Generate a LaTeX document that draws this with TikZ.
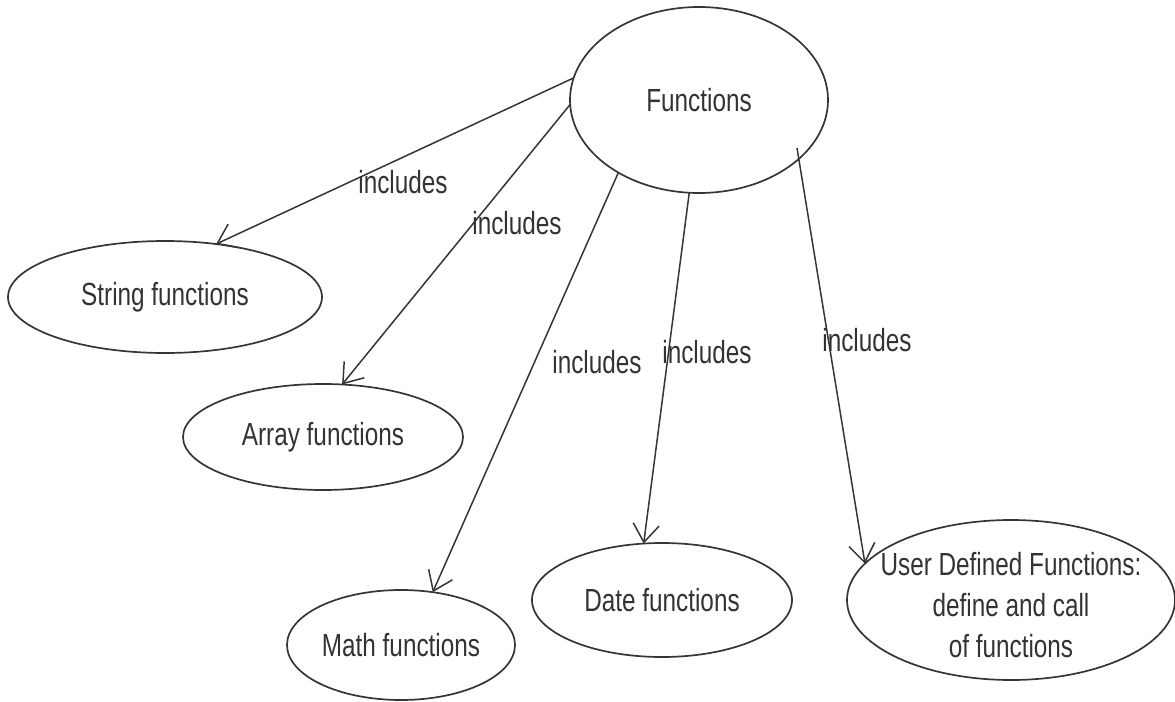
\documentclass[tikz,border=0pt]{standalone}
\usepackage{fontspec}
\setmainfont{Liberation Sans}[FakeStretch=0.76]
\usetikzlibrary{shapes.geometric,arrows.meta}
\definecolor{ln}{HTML}{353535}
\definecolor{tx}{HTML}{333333}
\begin{document}
\begin{tikzpicture}[x=0.5pt,y=-0.5pt,
  oval/.style={ellipse,draw=ln,line width=0.85pt,inner sep=0pt,outer sep=0pt,
     text=tx,align=center,font=\fontsize{16}{20.5}\selectfont},
  conn/.style={draw=ln,line width=0.75pt,-{Straight Barb[length=9pt,width=13pt,line width=0.75pt]}},
  lbl/.style={text=tx,inner sep=0pt,align=center,font=\fontsize{16}{20.5}\selectfont}]
\useasboundingbox (0,0) rectangle (1175,702);
\node[oval,minimum width=129pt,minimum height=93pt] (F) at (699,100) {Functions};
\node[oval,minimum width=157pt,minimum height=56pt] (S) at (165,297) {String functions};
\node[oval,minimum width=140pt,minimum height=53pt] (A) at (323,437) {Array functions};
\node[oval,minimum width=114pt,minimum height=55pt] (M) at (401,645) {Math functions};
\node[oval,minimum width=130pt,minimum height=57pt] (D) at (662,600) {Date functions};
\node[oval,minimum width=164pt,minimum height=80pt] (U) at (1011,600) {};
\node[lbl] (Ut) at (1011,605) {User Defined Functions:\\define and call\\of functions};
\coordinate (ustart) at (797,148);
\draw[conn] (F.170.3) -- (S.46);
\draw[conn] (F.182) -- (A.70.6);
\draw[conn] (F.222) -- (M.59);
\draw[conn] (F.264.7) -- (D.108.4);
\draw[conn] (ustart) -- (U.166.7);
\node[lbl] (l1) at (403,182) {includes};
\node[lbl] (l2) at (517,223) {includes};
\node[lbl] (l3) at (597,362) {includes};
\node[lbl] (l4) at (707,352) {includes};
\node[lbl] (l5) at (867,340) {includes};
\end{tikzpicture}
\end{document}
